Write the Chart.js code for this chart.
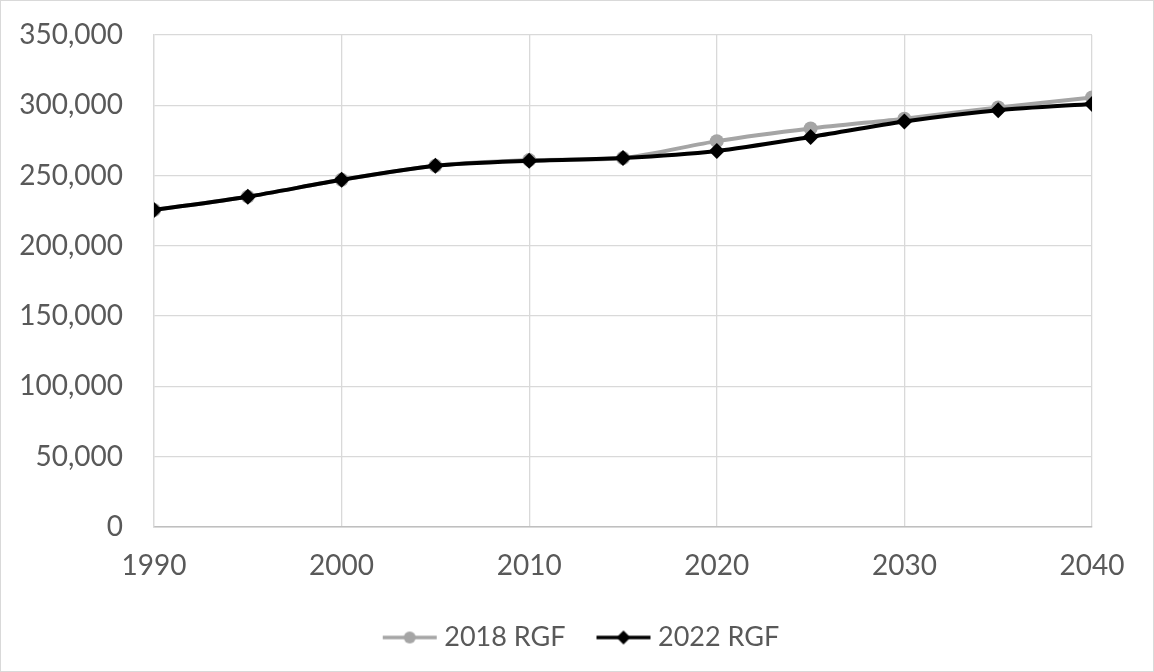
<!DOCTYPE html>
<html>
<head>
<meta charset="utf-8">
<script src="https://cdn.jsdelivr.net/npm/chart.js@4"></script>
<style>
  html, body { margin: 0; padding: 0; background: #fff; }
  #frame { width: 1154px; height: 672px; box-sizing: border-box; border: 1px solid #d9d9d9; position: relative; }
  #frame canvas { position: absolute; left: 0; top: 0; }
</style>
</head>
<body>
<div id="frame"><canvas id="chart" width="1152" height="670"></canvas></div>
<script>
// population forecast: 2018 vs 2022 RGF
const years = [1990, 1995, 2000, 2005, 2010, 2015, 2020, 2025, 2030, 2035, 2040];
const rgf2018 = [225500, 235000, 247000, 257000, 261000, 262500, 274500, 283500, 290500, 298500, 305500];
const rgf2022 = [225500, 235000, 247000, 257000, 260500, 262500, 267500, 277500, 288500, 296500, 301000];
const yTicks = [0, 50000, 100000, 150000, 200000, 250000, 300000, 350000];
const xTicks = [1990, 2000, 2010, 2020, 2030, 2040];

const GRAY = "#a5a5a5", BLACK = "#000000", TEXT = "#595959", GRID = "#d9d9d9";
const FONT = "Lato, 'Open Sans', sans-serif";

// legend swatch: line with marker in the middle
function swatch(color, shape) {
  const c = document.createElement("canvas");
  c.width = 56; c.height = 18;
  const g = c.getContext("2d");
  g.strokeStyle = color; g.lineWidth = 3.5;
  g.beginPath(); g.moveTo(1, 9); g.lineTo(55, 9); g.stroke();
  g.fillStyle = color;
  g.beginPath();
  if (shape === "circle") g.arc(28, 9, 6, 0, Math.PI * 2);
  else { g.moveTo(28, 2); g.lineTo(35, 9); g.lineTo(28, 16); g.lineTo(21, 9); g.closePath(); }
  g.fill();
  return c;
}
const swatches = [swatch(GRAY, "circle"), swatch(BLACK, "diamond")];

const toPts = (arr) => years.map((y, i) => ({ x: y, y: arr[i] }));
const noPad = (s) => { s.paddingTop = 0; s.paddingBottom = 0; s.paddingLeft = 0; s.paddingRight = 0; };

new Chart(document.getElementById("chart"), {
  type: "line",
  data: {
    datasets: [
      { label: "2018 RGF", data: toPts(rgf2018), borderColor: GRAY, backgroundColor: GRAY, order: 2,
        borderWidth: 4, pointStyle: "circle", pointRadius: 7, pointBorderWidth: 0, tension: 0.25 },
      { label: "2022 RGF", data: toPts(rgf2022), borderColor: BLACK, backgroundColor: BLACK, order: 1,
        borderWidth: 4, pointStyle: "rectRot", pointRadius: 8, pointBorderWidth: 0, tension: 0.25 }
    ]
  },
  options: {
    responsive: false, animation: false,
    layout: { padding: { left: 14, right: 0, top: 34, bottom: 10 } },
    plugins: {
      tooltip: { enabled: false },
      legend: {
        position: "bottom",
        labels: {
          color: TEXT, font: { family: FONT, size: 27 }, padding: 37,
          usePointStyle: true, pointStyleWidth: 42, boxHeight: 18,
          generateLabels: (chart) => chart.data.datasets.map((d, i) => ({
            text: d.label, pointStyle: swatches[i], fontColor: TEXT, datasetIndex: i,
            lineWidth: 0, strokeStyle: "transparent", fillStyle: "transparent"
          }))
        }
      }
    },
    scales: {
      x: {
        type: "linear", min: 1990, max: 2040,
        afterBuildTicks: (s) => { s.ticks = xTicks.map(v => ({ value: v })); },
        ticks: { color: TEXT, font: { family: FONT, size: 28 }, padding: 22, maxRotation: 0,
          callback: (v) => String(v) },
        grid: { color: GRID, lineWidth: 1.3, drawTicks: false },
        border: { color: "#bfbfbf", width: 1.5 },
        afterFit: (s) => { s.height = 60; noPad(s); }
      },
      y: {
        min: 0, max: 350000,
        afterBuildTicks: (s) => { s.ticks = yTicks.map(v => ({ value: v })); },
        ticks: { color: TEXT, font: { family: FONT, size: 28 }, padding: 31,
          callback: (v) => v.toLocaleString("en-US") },
        grid: { color: GRID, lineWidth: 1.3, drawTicks: false },
        border: { color: GRID, width: 1.3 },
        afterFit: (s) => { s.width = 139; noPad(s); }
      },
      // empty right-hand spacer so the plot ends where the reference does
      spacer: {
        type: "linear", position: "right", display: true,
        ticks: { display: false }, grid: { display: false }, border: { display: false },
        afterFit: (s) => { s.width = 61; noPad(s); }
      }
    }
  }
});
</script>
</body>
</html>
